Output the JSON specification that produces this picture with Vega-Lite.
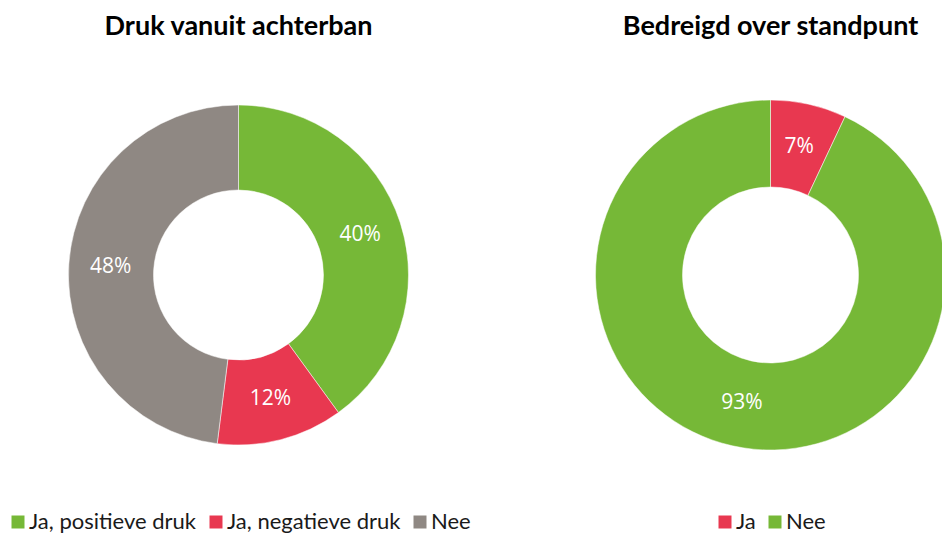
{
  "$schema": "https://vega.github.io/schema/vega-lite/v6.json",
  "background": "white",
  "padding": {"left": 0, "top": 13, "right": 0, "bottom": 0},
  "spacing": 122.5,
  "bounds": "flush",
  "datasets": {
    "achterban": [
      {"antwoord": "Ja, positieve druk", "aandeel": 0.40, "volgorde": 1},
      {"antwoord": "Ja, negatieve druk", "aandeel": 0.12, "volgorde": 2},
      {"antwoord": "Nee", "aandeel": 0.48, "volgorde": 3}
    ],
    "bedreigd": [
      {"antwoord": "Ja", "aandeel": 0.07, "volgorde": 1},
      {"antwoord": "Nee", "aandeel": 0.93, "volgorde": 2}
    ]
  },
  "config": {
    "view": {"stroke": null},
    "title": {"font": "Lato", "fontSize": 27, "fontWeight": "bold", "color": "#000000", "anchor": "middle", "frame": "group", "offset": 14},
    "legend": {
      "orient": "none",
      "direction": "horizontal",
      "title": null,
      "symbolType": "square",
      "symbolSize": 169,
      "symbolStrokeWidth": 0,
      "symbolOpacity": 1,
      "labelFont": "Lato",
      "labelFontSize": 22,
      "labelColor": "#1a1a1a",
      "labelOffset": 0,
      "columnPadding": 8,
      "labelLimit": 300
    }
  },
  "resolve": {"scale": {"color": "independent", "theta": "independent"}, "legend": {"color": "independent"}},
  "hconcat": [
    {
      "width": 477,
      "height": 440,
      "title": "Druk vanuit achterban",
      "data": {"name": "achterban"},
      "encoding": {
        "theta": {"field": "aandeel", "type": "quantitative", "stack": true},
        "order": {"field": "volgorde", "type": "quantitative"}
      },
      "layer": [
        {
          "mark": {"type": "arc", "innerRadius": 85, "outerRadius": 170, "stroke": "white", "strokeWidth": 0.5},
          "encoding": {
            "color": {
              "field": "antwoord",
              "type": "nominal",
              "scale": {"domain": ["Ja, positieve druk", "Ja, negatieve druk", "Nee"], "range": ["#76B837", "#E83850", "#8F8883"]},
              "legend": {"legendX": 7, "legendY": 456}
            }
          }
        },
        {
          "mark": {"type": "text", "radius": 128, "font": "Open Sans", "fontSize": 21, "color": "white"},
          "encoding": {"text": {"field": "aandeel", "type": "quantitative", "format": ".0%"}}
        }
      ]
    },
    {
      "width": 342,
      "height": 440,
      "title": "Bedreigd over standpunt",
      "data": {"name": "bedreigd"},
      "encoding": {
        "theta": {"field": "aandeel", "type": "quantitative", "stack": true},
        "order": {"field": "volgorde", "type": "quantitative"}
      },
      "layer": [
        {
          "mark": {"type": "arc", "innerRadius": 88, "outerRadius": 175, "stroke": "white", "strokeWidth": 0.5},
          "encoding": {
            "color": {
              "field": "antwoord",
              "type": "nominal",
              "scale": {"domain": ["Ja", "Nee"], "range": ["#E83850", "#76B837"]},
              "legend": {"legendX": 114.5, "legendY": 456}
            }
          }
        },
        {
          "mark": {"type": "text", "radius": 131, "font": "Open Sans", "fontSize": 21, "color": "white"},
          "encoding": {"text": {"field": "aandeel", "type": "quantitative", "format": ".0%"}}
        }
      ]
    }
  ]
}
